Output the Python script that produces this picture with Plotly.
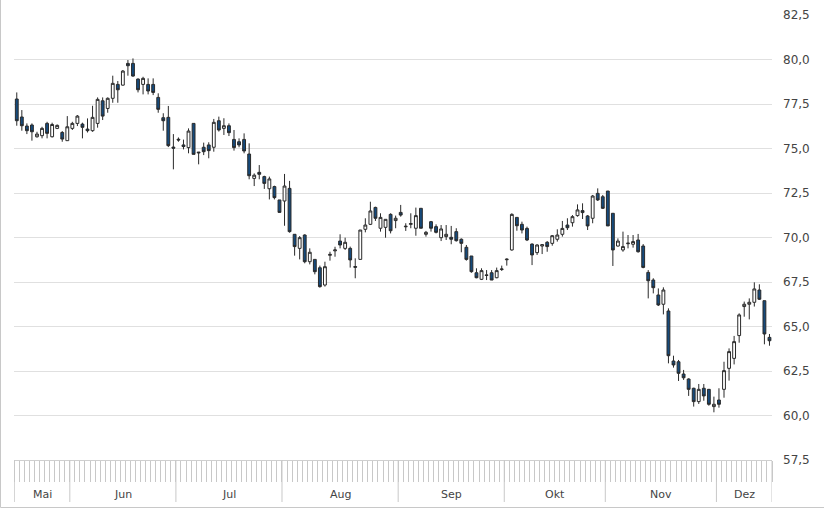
import plotly.graph_objects as go
import numpy as np

# Trading-day OHLC values (Mai .. Dez)
opens = [77.78, 76.77, 76.26, 76.32, 75.66, 75.72, 76.41, 75.66, 76.13, 75.90,
         75.44, 76.13, 76.41, 76.37, 76.09, 76.00, 76.41, 77.68, 77.25, 77.82,
         78.60, 78.56, 79.78, 79.78, 78.90, 78.60, 78.60, 78.60, 77.87, 76.73,
         76.75, 75.08, 75.52, 75.20, 75.05, 76.41, 74.80, 75.07, 75.20, 75.07,
         76.56, 76.13, 76.28, 75.51, 75.38, 75.51, 74.69, 73.32, 73.66, 73.42,
         72.74, 72.86, 72.11, 72.05, 72.76, 70.18, 69.39, 70.14, 68.64, 68.77,
         68.30, 67.33, 69.00, 69.25, 69.80, 69.39, 69.39, 68.37, 68.77, 70.46,
         70.74, 71.69, 70.52, 70.57, 71.30, 70.95, 71.41, 70.60, 70.74, 70.52,
         71.64, 70.18, 70.89, 70.61, 69.99, 70.05, 70.01, 70.33, 69.90, 69.45,
         68.96, 68.02, 67.65, 67.90, 68.02, 67.74, 68.20, 68.75, 69.30, 71.13,
         70.74, 70.51, 69.63, 69.15, 69.52, 69.73, 69.67, 69.90, 70.18, 70.70,
         70.83, 71.23, 71.51, 71.21, 71.08, 72.48, 72.29, 72.61, 71.36, 69.52,
         69.30, 69.65, 69.62, 69.86, 69.52, 68.04, 67.61, 66.77, 66.25, 65.87,
         63.06, 63.02, 62.33, 62.05, 61.53, 60.78, 61.53, 61.47, 60.50, 60.87,
         61.47, 62.65, 63.21, 64.49, 66.12, 66.25, 66.36, 67.05, 66.45, 64.39]
highs = [78.15, 77.16, 76.41, 76.41, 75.94, 76.22, 76.50, 76.45, 76.35, 75.98,
         76.82, 76.50, 76.88, 76.45, 76.69, 77.40, 77.87, 77.87, 77.87, 79.09,
         78.79, 79.41, 79.97, 80.06, 78.94, 79.03, 78.94, 78.94, 78.10, 76.98,
         77.39, 75.81, 75.62, 75.50, 76.13, 76.41, 74.80, 75.33, 75.35, 76.66,
         76.79, 76.70, 76.41, 76.04, 75.57, 75.85, 75.29, 73.60, 74.07, 73.47,
         73.42, 72.91, 72.11, 73.57, 73.18, 70.18, 70.08, 70.18, 69.39, 68.77,
         68.42, 68.64, 69.20, 69.48, 70.18, 69.99, 69.49, 68.83, 70.42, 71.08,
         72.01, 71.73, 71.36, 71.02, 71.36, 71.23, 71.83, 70.80, 71.36, 71.68,
         71.64, 70.37, 70.93, 70.74, 70.70, 70.70, 70.65, 70.52, 69.95, 69.58,
         68.96, 68.27, 68.27, 68.17, 68.17, 68.31, 68.42, 68.83, 71.36, 71.13,
         70.89, 70.61, 69.67, 69.62, 69.62, 69.80, 70.14, 70.46, 70.93, 71.08,
         71.26, 71.86, 71.92, 71.26, 72.39, 72.76, 72.39, 72.61, 71.36, 69.95,
         70.33, 70.14, 70.14, 70.20, 69.63, 68.17, 67.71, 67.14, 67.20, 66.02,
         63.36, 63.12, 62.56, 62.09, 61.56, 61.77, 61.77, 61.49, 61.06, 61.53,
         63.02, 63.77, 64.47, 65.74, 66.40, 66.58, 67.48, 67.37, 66.45, 64.58]
lows = [76.28, 76.00, 75.81, 75.44, 75.61, 75.57, 75.57, 75.62, 76.09, 75.38,
        75.44, 76.04, 76.26, 75.57, 75.90, 75.94, 76.17, 76.60, 77.01, 77.57,
        77.57, 78.53, 79.09, 79.03, 78.15, 78.04, 78.04, 78.00, 77.01, 76.00,
        75.08, 73.83, 75.38, 74.95, 74.73, 74.67, 74.11, 74.63, 74.45, 74.82,
        75.95, 75.76, 75.70, 74.88, 75.07, 74.73, 73.27, 72.89, 73.27, 72.73,
        72.14, 72.14, 71.41, 70.66, 70.27, 68.98, 68.77, 68.55, 68.49, 67.93,
        67.18, 67.24, 68.70, 68.92, 69.39, 69.30, 68.31, 67.71, 68.77, 70.29,
        70.70, 70.93, 70.33, 69.99, 70.23, 70.52, 71.17, 70.37, 70.52, 70.10,
        70.52, 70.05, 70.33, 70.23, 69.80, 69.86, 69.62, 69.77, 69.17, 68.70,
        68.02, 67.71, 67.61, 67.61, 67.61, 67.71, 68.12, 68.42, 69.26, 70.38,
        70.23, 69.80, 68.45, 69.02, 69.07, 69.20, 69.54, 69.77, 70.05, 70.42,
        70.61, 71.17, 71.04, 70.42, 70.80, 72.05, 71.60, 70.65, 68.40, 69.49,
        69.20, 69.39, 69.43, 69.15, 68.27, 66.58, 66.86, 66.15, 65.68, 62.93,
        62.69, 61.94, 62.00, 61.10, 60.50, 60.65, 60.83, 60.55, 60.18, 60.44,
        61.00, 61.96, 62.87, 64.09, 65.55, 65.40, 66.12, 66.49, 64.00, 63.92]
closes = [76.56, 76.28, 76.00, 75.94, 75.81, 76.13, 75.85, 76.35, 76.30, 75.53,
          76.22, 76.41, 76.82, 76.19, 76.00, 76.75, 77.76, 76.82, 77.82, 78.66,
          78.30, 79.35, 79.65, 79.07, 78.30, 78.94, 78.23, 78.15, 77.20, 76.56,
          75.16, 75.02, 75.48, 75.11, 75.98, 74.67, 74.76, 74.82, 74.88, 76.47,
          76.04, 76.28, 75.89, 75.05, 75.20, 74.86, 73.47, 73.50, 73.55, 73.04,
          73.29, 72.24, 71.41, 72.89, 70.33, 69.49, 69.99, 68.64, 69.17, 68.08,
          67.24, 68.36, 69.05, 69.30, 69.58, 69.73, 68.74, 68.33, 70.42, 70.70,
          71.49, 71.08, 71.13, 71.02, 70.38, 71.08, 71.26, 70.63, 70.78, 71.23,
          70.52, 70.29, 70.52, 70.29, 70.48, 70.18, 69.90, 69.82, 69.67, 68.77,
          68.08, 67.74, 68.14, 67.87, 67.61, 68.14, 68.23, 68.78, 71.30, 70.66,
          70.42, 69.86, 69.02, 69.58, 69.60, 69.49, 70.10, 70.14, 70.51, 70.55,
          71.17, 71.55, 71.40, 70.65, 72.33, 72.11, 71.64, 70.65, 69.30, 69.80,
          69.49, 69.68, 69.77, 69.20, 68.32, 67.57, 67.18, 66.21, 67.05, 63.36,
          62.84, 62.37, 62.12, 61.47, 60.78, 61.47, 61.10, 60.63, 60.63, 60.63,
          62.52, 63.59, 64.15, 65.65, 66.25, 66.36, 67.11, 66.53, 64.58, 64.20]

month_labels = ["Mai", "Jun", "Jul", "Aug", "Sep", "Okt", "Nov", "Dez"]
month_days = [11, 21, 21, 23, 21, 20, 22, 11]   # trading days shown per month

y_min, y_max, y_step = 57.5, 82.5, 2.5

day_index = list(range(len(opens)))

W, H = 824, 509
ML, MR, MT, MB = 14, 52, 15, 49
plot_h = H - MT - MB
plot_w = W - ML - MR

fig = go.Figure()
fig.add_trace(go.Candlestick(
    x=day_index, open=opens, high=highs, low=lows, close=closes,
    increasing=dict(line=dict(color="#2a2a2a", width=1), fillcolor="#ffffff"),
    decreasing=dict(line=dict(color="#2a2a2a", width=1), fillcolor="#154a7c"),
    whiskerwidth=0, showlegend=False, hoverinfo="x+y",
))

# month boundaries and labels
bounds = [-0.5]
for d in month_days:
    bounds.append(bounds[-1] + d)

shapes = []
annotations = []
band_long = 42 / plot_h
for b in bounds:
    shapes.append(dict(type="line", xref="x", yref="paper", x0=b, x1=b,
                       y0=0, y1=-band_long, line=dict(color="#c8c8c8", width=1),
                       layer="above"))
for i, lab in enumerate(month_labels):
    annotations.append(dict(x=(bounds[i] + bounds[i + 1]) / 2, xref="x",
                            y=-34 / plot_h, yref="paper", text=lab,
                            showarrow=False, yanchor="middle", xanchor="center",
                            font=dict(family="DejaVu Sans", size=11, color="#444")))

# outer border (left and bottom)
bx = (0.5 - ML) / plot_w
by = -(H - 1.5 - (MT + plot_h)) / plot_h
shapes.append(dict(type="line", xref="paper", yref="paper", x0=bx, x1=bx,
                   y0=by, y1=(plot_h + MT) / plot_h, line=dict(color="#c8c8c8", width=1)))
shapes.append(dict(type="line", xref="paper", yref="paper", x0=bx, x1=(W - ML) / plot_w,
                   y0=by, y1=by, line=dict(color="#c8c8c8", width=1)))

fig.update_layout(
    width=W, height=H,
    margin=dict(l=ML, r=MR, t=MT, b=MB, pad=0, autoexpand=False),
    paper_bgcolor="white", plot_bgcolor="white",
    separators=",.",
    boxgap=0.2,
    shapes=shapes, annotations=annotations,
    xaxis=dict(range=[-0.55, len(opens) - 0.5], rangeslider=dict(visible=False),
               showgrid=False, zeroline=False, showticklabels=False,
               ticks="outside", ticklen=21, tickcolor="#c8c8c8", tickwidth=1,
               tickmode="linear", tick0=0.5, dtick=1, automargin=False,
               showline=True, linecolor="#cfcfcf", linewidth=1, fixedrange=True),
    yaxis=dict(range=[y_min, y_max], side="right", tickmode="linear",
               tick0=y_min, dtick=y_step, tickformat=".1f", automargin=False,
               showgrid=True, gridcolor="#e0e0e0", gridwidth=1, zeroline=False,
               ticks="", ticklabelstandoff=10,
               tickfont=dict(family="DejaVu Sans", size=12, color="#444"),
               fixedrange=True),
)

fig.write_html("out.html", config={"displayModeBar": False},
               post_script="document.body.style.margin='0px';document.body.style.overflow='hidden';")
